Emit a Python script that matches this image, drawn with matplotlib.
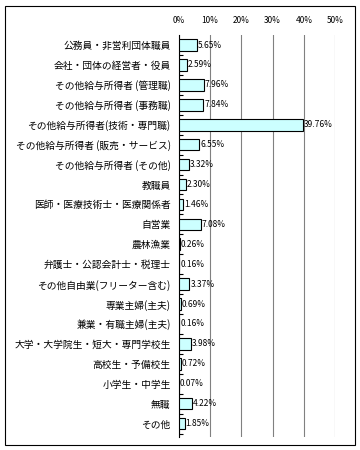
import matplotlib.pyplot as plt
import numpy as np

plt.rcParams['font.family'] = ['Noto Sans CJK JP', 'DejaVu Sans']

categories = [
    '公務員・非営利団体職員', '会社・団体の経営者・役員', 'その他給与所得者 (管理職)',
    'その他給与所得者 (事務職)', 'その他給与所得者(技術・専門職)', 'その他給与所得者 (販売・サービス)',
    'その他給与所得者 (その他)', '教職員', '医師・医療技術士・医療関係者', '自営業',
    '農林漁業', '弁護士・公認会計士・税理士', 'その他自由業(フリーター含む)', '専業主婦(主夫)',
    '兼業・有職主婦(主夫)', '大学・大学院生・短大・専門学校生', '高校生・予備校生', '小学生・中学生',
    '無職', 'その他',
]
values = [5.65, 2.59, 7.96, 7.84, 39.76, 6.55, 3.32, 2.30, 1.46, 7.08,
          0.26, 0.16, 3.37, 0.69, 0.16, 3.98, 0.72, 0.07, 4.22, 1.85]
xticks = [0, 10, 20, 30, 40, 50]

fig = plt.figure(figsize=(3.6, 4.5), dpi=100)
ax = fig.add_axes([0.497, 0.03, 0.434, 0.892])

n = len(categories)
y = np.arange(n)
ax.barh(y, values, height=0.58, color='#CCFFFF', edgecolor='black', linewidth=0.8, zorder=3)
for yi, v in zip(y, values):
    ax.text(v + 0.3, yi, '%.2f%%' % v, va='center', ha='left', fontsize=6, zorder=4)

ax.set_xlim(0, 50)
ax.set_ylim(n - 0.35, -0.5)
ax.set_xticks(xticks)
ax.set_xticklabels(['%d%%' % t for t in xticks], fontsize=6)
ax.xaxis.tick_top()
ax.tick_params(axis='x', length=0, pad=7)
ax.grid(axis='x', color='#808080', linewidth=0.8, zorder=0)

ax.set_yticks(y)
ax.set_yticklabels(categories, fontsize=7)
ax.set_yticks(np.arange(n) + 0.5, minor=True)
ax.tick_params(axis='y', which='major', length=0, pad=6)
ax.tick_params(axis='y', which='minor', direction='in', length=3, width=0.8)

for s in ['top', 'right', 'bottom']:
    ax.spines[s].set_visible(False)
ax.spines['left'].set_linewidth(0.8)

fig.patches.append(plt.Rectangle((0.014, 0.012), 0.972, 0.975, transform=fig.transFigure,
                                 fill=False, edgecolor='black', linewidth=0.8))

fig.savefig('out.png', dpi=100)
